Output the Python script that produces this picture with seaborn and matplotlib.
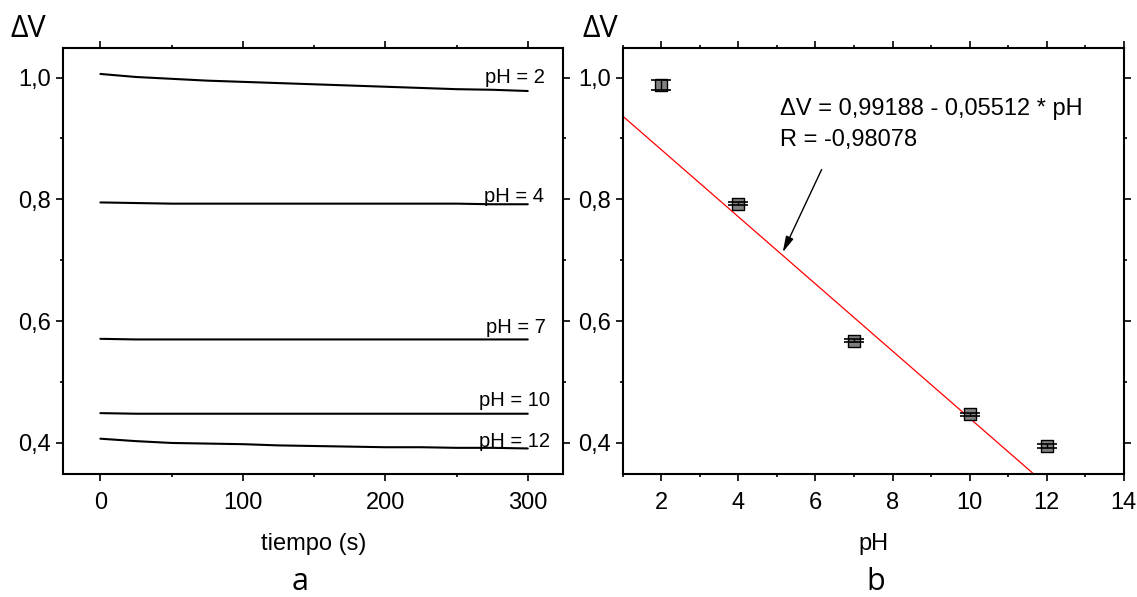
import numpy as np
import pandas as pd
import matplotlib
matplotlib.use("Agg")
import matplotlib.pyplot as plt
import seaborn as sns
from matplotlib.ticker import MultipleLocator, FuncFormatter

# ── Data ───────────────────────────────────────────────────────
# (a) ΔV vs time for each buffer
TIME_S = [0, 25, 50, 75, 100, 125, 150, 175, 200, 225, 250, 275, 300]
DV_PH2 = [1.006, 1.001, 0.998, 0.995, 0.993, 0.991, 0.989, 0.987, 0.985, 0.983, 0.981, 0.980, 0.978]
DV_PH4 = [0.795, 0.794, 0.793, 0.793, 0.793, 0.793, 0.793, 0.793, 0.793, 0.793, 0.793, 0.792, 0.792]
DV_PH7 = [0.571, 0.570, 0.570, 0.570, 0.570, 0.570, 0.570, 0.570, 0.570, 0.570, 0.570, 0.570, 0.570]
DV_PH10 = [0.449, 0.448, 0.448, 0.448, 0.448, 0.448, 0.448, 0.448, 0.448, 0.448, 0.448, 0.448, 0.448]
DV_PH12 = [0.407, 0.403, 0.400, 0.399, 0.398, 0.396, 0.395, 0.394, 0.393, 0.393, 0.392, 0.392, 0.391]
TRACE_LABELS = ["pH = 2", "pH = 4", "pH = 7", "pH = 10", "pH = 12"]

# (b) mean ΔV vs pH with linear fit
PH_LEVELS = [2, 4, 7, 10, 12]
DV_MEAN = [0.988, 0.793, 0.568, 0.447, 0.395]
DV_ERR = [0.008, 0.003, 0.003, 0.003, 0.003]
FIT_INTERCEPT = 0.99188
FIT_SLOPE = -0.05512
FIT_R = -0.98078

# label anchors (x, baseline y) for the traces in (a)
TRACE_LABEL_POS = [(270, 0.991), (269, 0.796), (271, 0.580), (266, 0.460), (266, 0.393)]

TICK_FS = 17
SANS = ["Liberation Sans", "DejaVu Sans"]
PANEL_FONT = ["Open Sans", "DejaVu Sans"]

sns.set_theme(style="ticks")
plt.rcParams["font.family"] = SANS
plt.rcParams["axes.linewidth"] = 1.5
for key in ["text.color", "axes.labelcolor", "xtick.color", "ytick.color", "axes.edgecolor"]:
    plt.rcParams[key] = "black"


def comma(v, _):
    return f"{v:.1f}".replace(".", ",")


def style_axes(ax):
    ax.tick_params(which="both", direction="out", top=True, right=True,
                   labeltop=False, labelright=False, color="black",
                   labelcolor="black", width=1.2)
    ax.tick_params(which="major", length=4.8, labelsize=TICK_FS)
    ax.tick_params(which="minor", length=2.4)
    ax.tick_params(axis="x", pad=8)
    ax.tick_params(axis="y", pad=4)
    ax.yaxis.set_major_locator(MultipleLocator(0.2))
    ax.yaxis.set_minor_locator(MultipleLocator(0.1))
    ax.yaxis.set_major_formatter(FuncFormatter(comma))
    ax.set_ylim(0.349, 1.049)
    ax.set_ylabel("")
    for sp in ax.spines.values():
        sp.set_color("black")
        sp.set_linewidth(1.5)


fig = plt.figure(figsize=(11.37, 5.97), dpi=100)
ax_a = fig.add_axes([0.0557, 0.206, 0.4398, 0.714])
ax_b = fig.add_axes([0.5477, 0.206, 0.4407, 0.714])

# ── Panel a ────────────────────────────────────────────────────
traces = pd.DataFrame({
    "tiempo": TIME_S * 5,
    "dv": DV_PH2 + DV_PH4 + DV_PH7 + DV_PH10 + DV_PH12,
    "serie": np.repeat(TRACE_LABELS, len(TIME_S)),
})
sns.lineplot(data=traces, x="tiempo", y="dv", units="serie", estimator=None,
             color="black", linewidth=1.5, ax=ax_a)
for label, (tx, ty) in zip(TRACE_LABELS, TRACE_LABEL_POS):
    ax_a.text(tx, ty, label, fontsize=14.5, ha="left", va="baseline")

ax_a.set_xlim(-26, 325)
ax_a.xaxis.set_major_locator(MultipleLocator(100))
ax_a.xaxis.set_minor_locator(MultipleLocator(50))
style_axes(ax_a)
ax_a.set_xlabel("tiempo (s)", fontsize=TICK_FS)
ax_a.xaxis.set_label_coords(0.5, -0.138)

# ── Panel b ────────────────────────────────────────────────────
fit_x = np.array([1.0, 14.0])
sns.lineplot(x=fit_x, y=FIT_INTERCEPT + FIT_SLOPE * fit_x, color="red",
             linewidth=0.9, ax=ax_b, zorder=2)
sns.scatterplot(x=PH_LEVELS, y=DV_MEAN, marker="s", s=63, color="#808080",
                edgecolor="black", linewidth=1, ax=ax_b, zorder=3)
ax_b.errorbar(PH_LEVELS, DV_MEAN, yerr=DV_ERR, fmt="none", ecolor="black",
              elinewidth=1, capsize=7.4, capthick=1.2, zorder=4)

ax_b.text(5.08, 0.939, f"ΔV = {FIT_INTERCEPT:.5f} - {abs(FIT_SLOPE):.5f} * pH".replace(".", ","),
          fontsize=TICK_FS, ha="left", va="baseline")
ax_b.text(5.08, 0.887, f"R = {FIT_R:.5f}".replace(".", ","),
          fontsize=TICK_FS, ha="left", va="baseline")
ax_b.annotate("", xy=(5.15, 0.713), xytext=(6.16, 0.849),
              arrowprops=dict(arrowstyle="-|>,head_length=0.8,head_width=0.2",
                              color="black", lw=1, mutation_scale=12,
                              shrinkA=0, shrinkB=0))

ax_b.set_xlim(1, 14)
ax_b.xaxis.set_major_locator(MultipleLocator(2))
ax_b.xaxis.set_minor_locator(MultipleLocator(1))
style_axes(ax_b)
ax_b.set_xlabel("pH", fontsize=TICK_FS)
ax_b.xaxis.set_label_coords(0.5, -0.138)

# ── Panel headers / letters ────────────────────────────────────
fig.text(0.0096, 0.9385, "ΔV", fontsize=22, family=PANEL_FONT, va="baseline")
fig.text(0.5125, 0.9385, "ΔV", fontsize=22, family=PANEL_FONT, va="baseline")
fig.text(0.2639, 0.012, "a", fontsize=22, family=PANEL_FONT, ha="center", va="baseline")
fig.text(0.7700, 0.012, "b", fontsize=22, family=PANEL_FONT, ha="center", va="baseline")

fig.savefig("out.png", dpi=100, facecolor="white")
